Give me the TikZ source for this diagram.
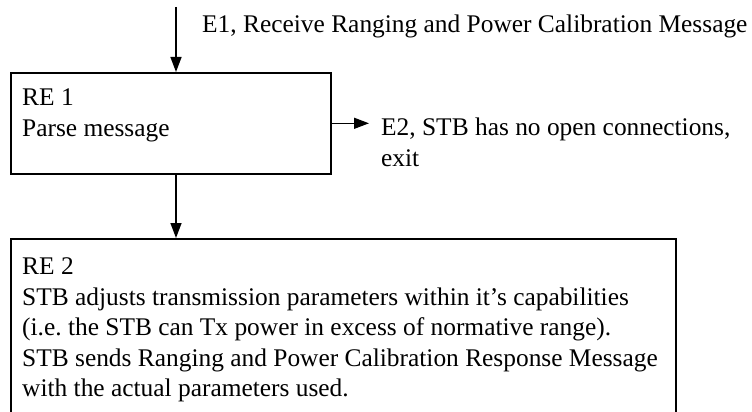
\documentclass[tikz,border=0pt]{standalone}
\usepackage{fontspec}
\setmainfont{Liberation Serif}
\usetikzlibrary{arrows.meta,positioning}

\begin{document}
\begin{tikzpicture}[x=1pt,y=-1pt]
\tikzset{
  stepbox/.style={draw,line width=1.6pt,rectangle,anchor=north west,inner sep=0pt},
  boxtext/.style={anchor=north west,align=left,inner sep=0pt,font=\fontsize{25.4}{30.6}\selectfont},
  flow/.style={-{Triangle[length=15pt,width=11pt]},line width=1.4pt}
}
\useasboundingbox (0,0) rectangle (752,412);
\clip (0,0) rectangle (752,412);
\node[stepbox,minimum width=320pt,minimum height=101pt] (re1) at (10,72) {};
\node[stepbox,minimum width=665pt,minimum height=220pt] (re2) at (10,238) {};
\node[boxtext] (re1txt) at (22,89) {RE 1\\Parse message};
\node[boxtext] (re2txt) at (22,257.5) {RE 2\\STB adjusts transmission parameters within it's capabilities\\(i.e.\ the STB can Tx power in excess of normative range).\\STB sends Ranging and Power Calibration Response Message\\with the actual parameters used.};
\node[boxtext] (e1) at (202,15) {E1, Receive Ranging and Power Calibration Message};
\node[boxtext] (e2) at (381,118) {E2, STB has no open connections,\\exit};
\coordinate (in) at (176,7);
\coordinate (out) at (369,123);
\draw[flow] (in) -- (in |- re1.north);
\draw[flow] (re1.east) -- (re1.east -| out);
\draw[flow] (re1.south -| in) -- (in |- re2.north);
\end{tikzpicture}
\end{document}
